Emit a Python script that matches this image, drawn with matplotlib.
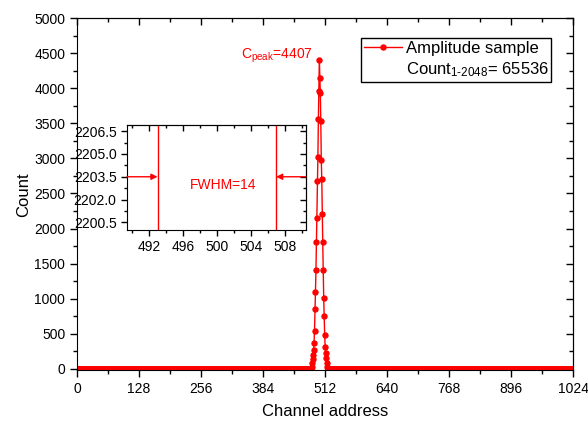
import numpy as np
import matplotlib.pyplot as plt
from matplotlib.lines import Line2D
from matplotlib.ticker import MultipleLocator, NullFormatter

plt.rcParams['font.family'] = ['Liberation Sans', 'DejaVu Sans']
plt.rcParams['mathtext.fontset'] = 'custom'
plt.rcParams['mathtext.rm'] = 'Liberation Sans'
plt.rcParams['mathtext.it'] = 'Liberation Sans:italic'

# data
n_channels = 1025
peak_start = 484
peak_counts = [28, 85, 142, 199, 271, 370, 541, 855, 1097, 1410, 1809, 2151,
               2678, 3020, 3561, 3960, 4407, 4145, 3932, 3533, 2977, 2707,
               2208, 1809, 1410, 1011, 755, 484, 313, 228, 157, 85, 28]
peak_value = 4407
fwhm_left = 493
fwhm_right = 507
half_max = 2203.5
total_count = 65536

channels = np.arange(n_channels)
counts = np.zeros(n_channels)
counts[peak_start:peak_start + len(peak_counts)] = peak_counts

red = '#ff0000'

fig = plt.figure(figsize=(5.88, 4.24), dpi=100)
ax = fig.add_axes([0.131, 0.127, 0.844, 0.830])
ax.plot(channels, counts, color=red, lw=1, marker='o', ms=3.6,
        mfc=red, mec=red)

ax.set_xlim(0, 1024)
ax.set_ylim(-20, 5000)
ax.xaxis.set_major_locator(MultipleLocator(128))
ax.xaxis.set_minor_locator(MultipleLocator(64))
ax.yaxis.set_major_locator(MultipleLocator(500))
ax.yaxis.set_minor_locator(MultipleLocator(250))
ax.tick_params(which='both', direction='out', labelsize=10, width=1)
ax.tick_params(which='major', length=5)
ax.tick_params(which='minor', length=3)
ax.set_xlabel('Channel address', fontsize=12, labelpad=6)
ax.set_ylabel('Count', fontsize=12, labelpad=2)

# top / right ticks point inward
secx = ax.secondary_xaxis('top')
secx.xaxis.set_major_locator(MultipleLocator(128))
secx.xaxis.set_minor_locator(MultipleLocator(64))
secx.xaxis.set_major_formatter(NullFormatter())
secx.tick_params(which='both', direction='in', width=1)
secx.tick_params(which='major', length=5)
secx.tick_params(which='minor', length=3)
secy = ax.secondary_yaxis('right')
secy.yaxis.set_major_locator(MultipleLocator(500))
secy.yaxis.set_minor_locator(MultipleLocator(250))
secy.yaxis.set_major_formatter(NullFormatter())
secy.tick_params(which='both', direction='in', width=1)
secy.tick_params(which='major', length=5)
secy.tick_params(which='minor', length=3)

ax.text(486, 4330, r'$\mathregular{C_{peak}}$=%d' % peak_value, color=red,
        fontsize=10, ha='right', va='bottom')

handles = [Line2D([], [], color=red, lw=1, marker='o', ms=3.6),
           Line2D([], [], linestyle='none')]
labels = ['Amplitude sample',
          r'Count$_{\mathregular{1\text{-}2048}}$= %d' % total_count]
leg = ax.legend(handles, labels, loc='upper right',
                bbox_to_anchor=(0.956, 0.943), borderaxespad=0,
                fontsize=12, fancybox=False, framealpha=1,
                handlelength=2.3, handletextpad=0.2, labelspacing=0.25,
                borderpad=0.3)
leg.get_frame().set_edgecolor('black')
leg.get_frame().set_linewidth(1)
leg._legend_box.pad = 2

# inset
ax_in = fig.add_axes([0.216, 0.4575, 0.304, 0.2476])
ax_in.set_xlim(489.4, 510.5)
ax_in.set_ylim(2200.0, 2206.9)
ax_in.xaxis.set_major_locator(MultipleLocator(4))
ax_in.xaxis.set_minor_locator(MultipleLocator(2))
ax_in.yaxis.set_major_locator(MultipleLocator(1.5))
ax_in.yaxis.set_minor_locator(MultipleLocator(0.75))
ax_in.tick_params(which='both', direction='out', labelsize=10, width=1)
ax_in.tick_params(which='major', length=4)
ax_in.tick_params(which='minor', length=2.5)
ax_in.yaxis.set_major_formatter(plt.FormatStrFormatter('%.1f'))
inx = ax_in.secondary_xaxis('top')
inx.xaxis.set_major_locator(MultipleLocator(4))
inx.xaxis.set_minor_locator(MultipleLocator(2))
inx.xaxis.set_major_formatter(NullFormatter())
inx.tick_params(which='both', direction='in', width=1)
inx.tick_params(which='major', length=4)
inx.tick_params(which='minor', length=2.5)
iny = ax_in.secondary_yaxis('right')
iny.yaxis.set_major_locator(MultipleLocator(1.5))
iny.yaxis.set_minor_locator(MultipleLocator(0.75))
iny.yaxis.set_major_formatter(NullFormatter())
iny.tick_params(which='both', direction='in', width=1)
iny.tick_params(which='major', length=4)
iny.tick_params(which='minor', length=2.5)

ax_in.axvline(fwhm_left, color=red, lw=1)
ax_in.axvline(fwhm_right, color=red, lw=1)
x0, x1 = ax_in.get_xlim()
ax_in.annotate('', xy=(fwhm_left, half_max), xytext=(x0, half_max),
               arrowprops=dict(arrowstyle='-|>', color=red, lw=1,
                               mutation_scale=9, shrinkA=0, shrinkB=0))
ax_in.annotate('', xy=(fwhm_right, half_max), xytext=(x1, half_max),
               arrowprops=dict(arrowstyle='-|>', color=red, lw=1,
                               mutation_scale=9, shrinkA=0, shrinkB=0))
ax_in.text((fwhm_left + fwhm_right) / 2 + 0.7, half_max - 0.55,
           'FWHM=%d' % (fwhm_right - fwhm_left), color=red, fontsize=10,
           ha='center', va='center')

fig.savefig('out.png', dpi=100)
